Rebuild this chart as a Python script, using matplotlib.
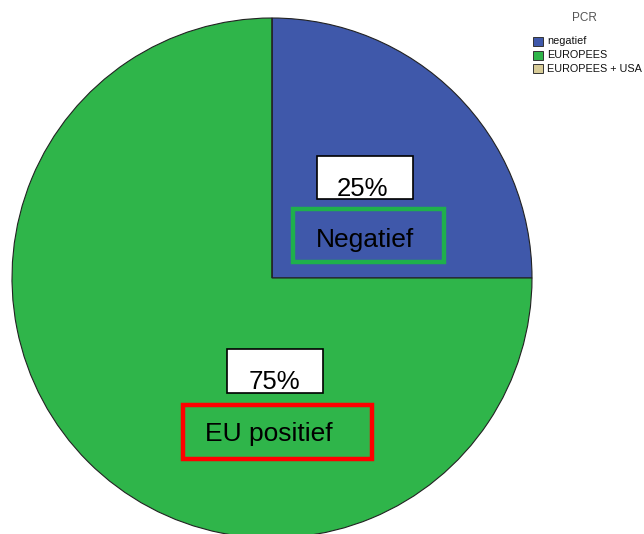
import matplotlib
matplotlib.use("Agg")
import matplotlib.pyplot as plt
from matplotlib.patches import Rectangle

plt.rcParams['font.family'] = ['Liberation Sans', 'DejaVu Sans']

categories = ["negatief", "EUROPEES", "EUROPEES + USA"]
values = [25, 75, 0]
colors = ["#3f58aa", "#2fb54a", "#d7cb97"]
pct_labels = ["25%", "75%"]
group_labels = ["Negatief", "EU positief"]

W, H = 644, 534
fig = plt.figure(figsize=(W / 100, H / 100), dpi=100)
ax = fig.add_axes([0, 0, 1, 1])

cx, cy, r = 272, H - 278, 260
wedges, _ = ax.pie(values, colors=colors, startangle=90, counterclock=False,
                   center=(cx, cy), radius=r,
                   wedgeprops=dict(edgecolor="#222222", linewidth=0.8))
ax.set_xlim(0, W)
ax.set_ylim(0, H)
ax.set_aspect("equal")
ax.axis("off")


def boxed_text(x0, y0, x1, y1, text, edge, lw, face, tx, ty, fs, clip=True):
    # coordinates given top-down in pixels
    rect = Rectangle((x0, H - y1), x1 - x0, y1 - y0, facecolor=face,
                     edgecolor=edge, linewidth=lw, zorder=5)
    ax.add_patch(rect)
    t = ax.text(tx, H - ty, text, ha="center", va="center", fontsize=fs,
                color="black", zorder=6)
    if clip:
        t.set_clip_path(rect)


# percentage boxes
boxed_text(317, 156, 413, 199, pct_labels[0], "black", 1.2, "white", 363, 189, 18.5)
boxed_text(227, 349, 323, 393, pct_labels[1], "black", 1.2, "white", 274, 382, 18.5)
# highlighted group labels
boxed_text(293, 209, 444, 262, group_labels[0], "#1fb04c", 3.2, "none", 365, 240, 19)
boxed_text(183, 405, 372, 459, group_labels[1], "#ff0000", 3.2, "none", 269, 434, 19, clip=False)

# legend block (pixel coordinates, top-down)
ax.text(584, H - 18, "PCR", ha="center", va="center", fontsize=8.5,
        color="#555555", clip_on=False)
for i, (lab, col) in enumerate(zip(categories, colors)):
    top = 37 + 13.5 * i
    ax.add_patch(Rectangle((533, H - top - 9), 10, 9, facecolor=col,
                           edgecolor="#333333", linewidth=0.7, clip_on=False))
    ax.text(547, H - top - 4.5, lab, ha="left", va="center", fontsize=7.8,
            color="#111111", clip_on=False)

fig.savefig("out.png", dpi=100)
